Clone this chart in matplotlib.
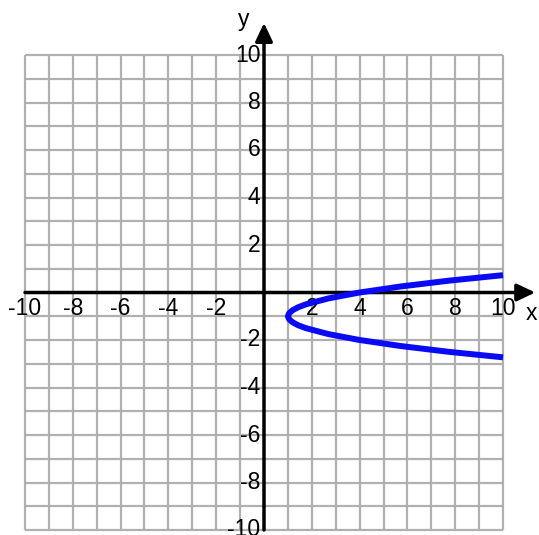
import matplotlib
matplotlib.use("Agg")
import matplotlib.pyplot as plt

# Data
curve_y = [0.73, 0.5, 0.25, 0.0, -0.25, -0.5, -0.625, -0.75, -0.875, -1.0,
           -1.125, -1.25, -1.375, -1.5, -1.75, -2.0, -2.25, -2.5, -2.73]
curve_x = [10.0, 7.75, 5.69, 4.0, 2.69, 1.75, 1.42, 1.19, 1.05, 1.0,
           1.05, 1.19, 1.42, 1.75, 2.69, 4.0, 5.69, 7.75, 10.0]
grid_vals = list(range(-10, 11))
tick_vals = [-10, -8, -6, -4, -2, 2, 4, 6, 8, 10]
tick_labels = ["-10", "-8", "-6", "-4", "-2", "2", "4", "6", "8", "10"]

plt.rcParams['font.family'] = ['Liberation Sans', 'DejaVu Sans']

W, H = 539, 535
fig = plt.figure(figsize=(W / 100, H / 100), dpi=100)
ax = fig.add_axes([25 / W, (H - 530) / H, 478 / W, 475 / H])
ax.set_xlim(-10, 10)
ax.set_ylim(-10, 10)
ax.axis('off')

grid_color = '#b0b0b0'
for v in grid_vals:
    ax.plot([v, v], [-10, 10], color=grid_color, lw=1.6, zorder=1, clip_on=False,
            solid_capstyle='butt')
    ax.plot([-10, 10], [v, v], color=grid_color, lw=1.6, zorder=1, clip_on=False,
            solid_capstyle='butt')

arrow = dict(arrowstyle='-|>,head_length=0.55,head_width=0.26', color='black',
             lw=2.5, shrinkA=0, shrinkB=0, mutation_scale=20)
ax.annotate('', xy=(11.35, 0), xytext=(-10, 0), arrowprops=arrow, zorder=3,
            annotation_clip=False)
ax.annotate('', xy=(0, 11.35), xytext=(0, -10), arrowprops=arrow, zorder=3,
            annotation_clip=False)

fs = 16.5
for v, lab in zip(tick_vals, tick_labels):
    ax.text(v, -0.2, lab, ha='center', va='top', fontsize=fs, zorder=4,
            clip_on=False)
    ax.text(-0.15, v, lab, ha='right', va='center', fontsize=fs, zorder=4,
            clip_on=False)

ax.text(11.2, -0.9, 'x', ha='center', va='center', fontsize=fs, clip_on=False)
ax.text(-0.85, 11.5, 'y', ha='center', va='center', fontsize=fs, clip_on=False)

ax.plot(curve_x, curve_y, color='#0a0af5', lw=4.3, zorder=5, clip_on=False,
        solid_capstyle='butt', solid_joinstyle='round')

fig.savefig('out.png', dpi=100, facecolor='white')
